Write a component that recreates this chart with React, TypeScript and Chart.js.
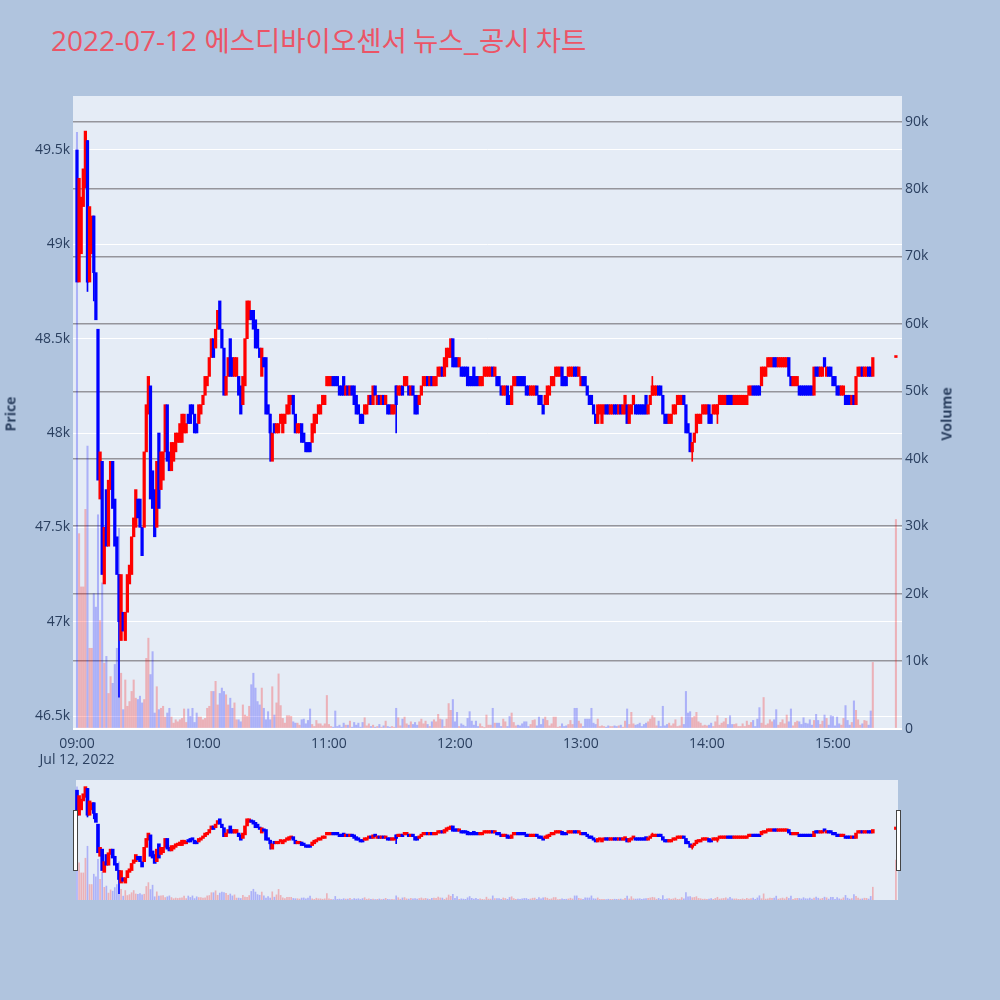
import React, { useEffect, useRef } from "react";
import { Chart, registerables } from "chart.js";

Chart.register(...registerables);

// ---------- text ----------
const TITLE_DATE = "2022-07-12";
const TITLE_NAME = "에스디바이오센서 뉴스_공시 차트";
const DATE_LABEL = "Jul 12, 2022";
const PRICE_TITLE = "Price";
const VOLUME_TITLE = "Volume";
const SESSION_START_HOUR = 9;

// ---------- data: one entry per minute from 09:00 (index = minutes after 09:00) ----------
const OPEN: (number | null)[] = [
  49500, 48800, 48950, 49200, 49300, 49550, 48800, 48950, 49150, 48850,
  48550, 47650, 47850, 47200, 47700, 47400, 47700, 47850, 47650, 47450,
  47250, 46900, 47050, 46900, 47050, 47200, 47250, 47450, 47500, 47650,
  47650, 47500, 47500, 47900, 48100, 48250, 47800, 47700, 47500, 48000,
  47700, 47750, 47900, 48150, 47900, 47800, 47850, 47900, 47950, 47950,
  47950, 48000, 48000, 48100, 48150, 48150, 48100, 48050, 48050, 48100,
  48150, 48200, 48250, 48300, 48400, 48500, 48450, 48550, 48700, 48550,
  48450, 48200, 48300, 48500, 48400, 48300, 48300, 48300, 48250, 48150,
  48250, 48500, 48600, 48650, 48650, 48600, 48550, 48450, 48300, 48400,
  48400, 48150, 48100, 47850, 48050, 48000, 48000, 48050, 48000, 48050,
  48100, 48100, 48150, 48200, 48100, 48000, 48000, 48050, 48000, 47950,
  47950, 47950, 47950, 48000, 48050, 48100, 48100, 48150, 48150, 48250,
  48250, 48250, 48300, 48300, 48300, 48250, 48250, 48300, 48200, 48250,
  48200, 48250, 48250, 48200, 48150, 48100, 48100, 48100, 48100, 48150,
  48200, 48150, 48250, 48150, 48200, 48150, 48200, 48150, 48150, 48150,
  48100, 48100, 48250, 48200, 48200, 48250, 48250, 48250, 48250, 48200,
  48250, 48200, 48200, 48150, 48200, 48250, 48250, 48300, 48250, 48300,
  48250, 48250, 48300, 48300, 48350, 48300, 48350, 48400, 48400, 48500,
  48400, 48400, 48350, 48350, 48350, 48350, 48350, 48300, 48300, 48350,
  48300, 48300, 48250, 48250, 48300, 48300, 48300, 48300, 48350, 48300,
  48300, 48300, 48250, 48200, 48200, 48250, 48200, 48150, 48250, 48250,
  48300, 48300, 48300, 48300, 48250, 48250, 48200, 48200, 48200, 48250,
  48200, 48200, 48150, 48150, 48150, 48200, 48250, 48250, 48300, 48300,
  48300, 48350, 48300, 48300, 48300, 48300, 48300, 48350, 48350, 48300,
  48250, 48300, 48300, 48250, 48200, 48200, 48150, 48100, 48050, 48100,
  48050, 48100, 48150, 48150, 48100, 48100, 48150, 48150, 48100, 48150,
  48100, 48100, 48150, 48050, 48100, 48150, 48150, 48150, 48150, 48150,
  48150, 48200, 48100, 48150, 48200, 48200, 48200, 48250, 48250, 48200,
  48100, 48100, 48050, 48050, 48100, 48100, 48150, 48150, 48150, 48200,
  48150, 48050, 48000, 47900, 47950, 48000, 48050, 48050, 48100, 48100,
  48100, 48150, 48100, 48100, 48100, 48100, 48150, 48150, 48150, 48150,
  48200, 48200, 48200, 48150, 48150, 48150, 48150, 48150, 48150, 48150,
  48200, 48200, 48250, 48250, 48250, 48250, 48250, 48300, 48300, 48350,
  48350, 48350, 48400, 48400, 48350, 48350, 48350, 48350, 48350, 48400,
  48300, 48250, 48250, 48250, 48250, 48250, 48250, 48250, 48250, 48250,
  48250, 48200, 48350, 48350, 48300, 48300, 48400, 48300, 48350, 48350,
  48300, 48300, 48250, 48250, 48200, 48200, 48200, 48200, 48200, 48150,
  48200, 48150, 48300, 48300, 48350, 48300, 48300, 48350, 48350, 48300,
  null, null, null, null, null, null, null, null, null, null,
  48400,
];

const CLOSE: (number | null)[] = [
  48800, 49350, 49250, 49400, 49600, 48800, 49200, 49150, 48850, 48600,
  47750, 47900, 47250, 47500, 47400, 47750, 47850, 47600, 47400, 47250,
  47000, 47250, 46950, 47050, 47250, 47300, 47450, 47550, 47700, 47550,
  47500, 47350, 47900, 48150, 48300, 47650, 47600, 47450, 47850, 47600,
  47900, 47900, 48150, 47850, 47800, 47950, 47950, 48000, 48000, 48050,
  48100, 48100, 48050, 48050, 48050, 48100, 48000, 48000, 48150, 48150,
  48200, 48300, 48300, 48400, 48500, 48400, 48550, 48650, 48550, 48450,
  48200, 48300, 48400, 48300, 48300, 48400, 48400, 48200, 48100, 48300,
  48500, 48700, 48700, 48600, 48550, 48450, 48450, 48400, 48450, 48350,
  48100, 48100, 48000, 48000, 48000, 48050, 48050, 48100, 48100, 48100,
  48150, 48200, 48200, 48100, 48000, 48050, 48050, 47950, 47950, 47900,
  47900, 47900, 48050, 48100, 48100, 48150, 48150, 48200, 48200, 48300,
  48300, 48300, 48250, 48250, 48250, 48200, 48200, 48200, 48250, 48200,
  48250, 48200, 48150, 48100, 48100, 48050, 48050, 48150, 48150, 48200,
  48150, 48250, 48200, 48200, 48150, 48200, 48150, 48200, 48100, 48100,
  48150, 48150, 48150, 48250, 48250, 48200, 48300, 48300, 48200, 48250,
  48200, 48100, 48100, 48200, 48250, 48300, 48300, 48250, 48300, 48250,
  48300, 48300, 48350, 48350, 48300, 48400, 48450, 48450, 48500, 48350,
  48350, 48350, 48400, 48300, 48300, 48300, 48250, 48250, 48250, 48250,
  48250, 48250, 48300, 48300, 48350, 48350, 48350, 48350, 48300, 48350,
  48250, 48250, 48200, 48250, 48250, 48150, 48150, 48250, 48300, 48300,
  48250, 48250, 48250, 48250, 48200, 48200, 48250, 48250, 48250, 48200,
  48150, 48150, 48100, 48200, 48250, 48250, 48300, 48300, 48350, 48350,
  48350, 48250, 48250, 48250, 48350, 48350, 48350, 48300, 48300, 48350,
  48300, 48250, 48250, 48200, 48150, 48150, 48100, 48050, 48150, 48150,
  48150, 48150, 48100, 48100, 48150, 48150, 48100, 48100, 48150, 48100,
  48150, 48200, 48050, 48150, 48150, 48200, 48100, 48100, 48100, 48100,
  48100, 48100, 48150, 48200, 48250, 48250, 48250, 48200, 48200, 48100,
  48050, 48050, 48100, 48100, 48150, 48150, 48200, 48200, 48200, 48150,
  48000, 48000, 47900, 47950, 48000, 48100, 48100, 48100, 48150, 48150,
  48150, 48050, 48050, 48150, 48150, 48150, 48200, 48200, 48200, 48200,
  48150, 48150, 48150, 48200, 48200, 48200, 48200, 48200, 48200, 48200,
  48250, 48250, 48200, 48200, 48200, 48200, 48350, 48350, 48350, 48400,
  48400, 48400, 48350, 48350, 48400, 48400, 48400, 48400, 48400, 48300,
  48250, 48300, 48300, 48300, 48200, 48200, 48200, 48200, 48200, 48200,
  48200, 48350, 48300, 48300, 48350, 48350, 48350, 48350, 48300, 48300,
  48250, 48250, 48200, 48200, 48250, 48250, 48150, 48150, 48150, 48200,
  48150, 48300, 48350, 48350, 48300, 48350, 48350, 48300, 48300, 48400,
  null, null, null, null, null, null, null, null, null, null,
  48400,
];

const VOLUME: (number | null)[] = [
  88400, 28900, 21000, 21000, 32500, 41900, 11900, 11900, 20000, 18000,
  31700, 16000, 21600, 9700, 10700, 5200, 7700, 6700, 9500, 11900,
  29700, 8200, 2800, 7200, 3300, 4000, 5500, 7200, 4500, 4300,
  4800, 3800, 4300, 10400, 13400, 8000, 11400, 2300, 6200, 2800,
  3000, 3300, 1700, 2300, 3000, 1700, 800, 1300, 1000, 1300,
  1500, 2900, 900, 2900, 1800, 3000, 900, 2300, 1700, 1700,
  1300, 1500, 3000, 3300, 5500, 5500, 7000, 3500, 5200, 6000,
  5500, 5000, 3500, 4500, 3000, 3800, 1300, 1300, 1000, 3500,
  2000, 1800, 3300, 6500, 8200, 6000, 4000, 3500, 6000, 3000,
  1300, 2500, 1300, 6200, 2000, 3800, 8100, 3400, 1500, 800,
  1900, 1900, 1800, 1000, 800, 800, 500, 1300, 1400, 700,
  1200, 2900, 600, 300, 1200, 700, 700, 400, 700, 4900,
  600, 300, 200, 2600, 300, 500, 200, 800, 500, 500,
  1100, 200, 900, 500, 800, 200, 900, 1600, 400, 700,
  300, 500, 200, 300, 600, 200, 400, 1100, 300, 200,
  300, 200, 3000, 1600, 400, 1400, 1700, 700, 500, 1000,
  600, 900, 500, 1000, 1400, 700, 1100, 600, 300, 1000,
  1300, 1000, 2100, 1400, 1300, 300, 1400, 3700, 2700, 4300,
  1000, 2400, 300, 700, 500, 300, 1500, 2500, 1100, 500,
  1100, 300, 700, 300, 100, 2000, 500, 500, 3000, 800,
  800, 800, 300, 1400, 1000, 300, 1800, 2300, 900, 400,
  500, 400, 700, 1000, 1000, 300, 600, 1200, 1300, 400,
  1700, 600, 1400, 1700, 1200, 400, 700, 1700, 1700, 200,
  300, 700, 300, 400, 600, 1200, 600, 3000, 3000, 1100,
  700, 300, 1400, 1400, 1400, 3000, 800, 600, 1400, 300,
  400, 300, 200, 400, 300, 300, 400, 300, 400, 500,
  200, 1100, 2900, 600, 2400, 700, 500, 600, 800, 300,
  600, 800, 1000, 1400, 1900, 1600, 400, 1100, 300, 3300,
  400, 600, 800, 400, 700, 1300, 300, 400, 1700, 600,
  5500, 2300, 2500, 1600, 1800, 2400, 1000, 800, 400, 500,
  400, 500, 800, 300, 1000, 1900, 500, 800, 1000, 1500,
  600, 1900, 600, 600, 700, 300, 300, 700, 300, 1100,
  500, 900, 1200, 300, 1400, 3100, 800, 4600, 500, 700,
  1300, 1000, 1300, 2800, 500, 900, 1300, 700, 2000, 1000,
  2900, 400, 900, 1100, 1000, 600, 1600, 800, 700, 1300,
  500, 1200, 2100, 1200, 600, 1100, 2000, 1500, 500, 1900,
  1800, 400, 1700, 700, 500, 1500, 3400, 1200, 500, 900,
  4100, 2700, 1300, 500, 700, 1200, 1100, 500, 2600, 9800,
  null, null, null, null, null, null, null, null, null, null,
  31000,
];

// visible wicks beyond the candle body: [minute, low, high]
const WICKS: [number, number, number][] = [
  [5, 48750, 49550],
  [8, 48700, 49150],
  [20, 46600, 47250],
  [92, 47850, 48100],
  [152, 48000, 48250],
  [274, 48200, 48300],
  [293, 47850, 47950],
  [305, 48050, 48150],
];

const PRICE_TICKS = [46500, 47000, 47500, 48000, 48500, 49000, 49500];
const VOLUME_TICKS = [0, 10000, 20000, 30000, 40000, 50000, 60000, 70000, 80000, 90000];
const TIME_TICKS = [0, 60, 120, 180, 240, 300, 360];

const PRICE_RANGE = [46426, 49786];
const VOLUME_RANGE = [-220, 93800];
const TIME_RANGE = [-1.9, 392.9];

// ---------- style ----------
const PAGE_BG = "#B0C4DE";
const PLOT_BG = "#E5ECF6";
const TITLE_COLOR = "rgb(236, 84, 102)";
const TEXT_COLOR = "#2a3f5f";
const RED = "#ff0000";
const BLUE = "#0000ff";
const RED_LIGHT = "rgba(255,0,0,0.25)";
const BLUE_LIGHT = "rgba(0,0,255,0.25)";
const VOL_GRID = "rgba(140,140,145,0.9)";
const FONT = '"Open Sans", verdana, arial, sans-serif';

Chart.defaults.font.family = FONT;

function isUp(i: number) {
  return (CLOSE[i] as number) >= (OPEN[i] as number);
}

function timeLabel(m: number) {
  const h = SESSION_START_HOUR + Math.floor(m / 60);
  const mm = m % 60;
  return `${String(h).padStart(2, "0")}:${String(mm).padStart(2, "0")}`;
}

function buildDatasets(bodyW: number, wickW: number, volW: number, minLen: number) {
  const idx: number[] = [];
  OPEN.forEach((o, i) => {
    if (o !== null) idx.push(i);
  });
  return [
    {
      type: "bar" as const,
      label: "candle",
      yAxisID: "y",
      data: idx.map((i) => ({ x: i, y: [OPEN[i], CLOSE[i]] })),
      backgroundColor: idx.map((i) => (isUp(i) ? RED : BLUE)),
      barThickness: bodyW,
      minBarLength: minLen,
      grouped: false,
      borderWidth: 0,
      order: 0,
    },
    {
      type: "bar" as const,
      label: "wick",
      yAxisID: "y",
      data: WICKS.map(([m, l, h]) => ({ x: m, y: [l, h] })),
      backgroundColor: WICKS.map(([m]) => (isUp(m) ? RED : BLUE)),
      barThickness: wickW,
      grouped: false,
      borderWidth: 0,
      order: 1,
    },
    {
      type: "bar" as const,
      label: "volume",
      yAxisID: "yv",
      data: idx.map((i) => ({ x: i, y: VOLUME[i] })),
      backgroundColor: idx.map((i) => (isUp(i) ? RED_LIGHT : BLUE_LIGHT)),
      barThickness: volW,
      grouped: false,
      borderWidth: 0,
      order: 2,
    },
  ];
}

function areaBg(left?: number, right?: number) {
  return {
    id: "areaBg",
    beforeDraw(chart: any) {
      const a = chart.chartArea;
      const ctx = chart.ctx;
      const l = left ?? a.left;
      const r = right ?? a.right;
      ctx.save();
      ctx.fillStyle = PLOT_BG;
      ctx.fillRect(l, a.top, r - l, a.bottom - a.top);
      ctx.restore();
    },
  };
}

function MainChart() {
  const ref = useRef<HTMLCanvasElement>(null);
  useEffect(() => {
    const chart = new Chart(ref.current as HTMLCanvasElement, {
      type: "bar",
      data: { datasets: buildDatasets(2.6, 1, 1.4, 2) as any },
      options: {
        responsive: false,
        animation: false,
        events: [],
        layout: { padding: { top: 96, right: 40, left: 0, bottom: 0 } },
        plugins: { legend: { display: false }, tooltip: { enabled: false } },
        scales: {
          x: {
            type: "linear",
            position: "bottom",
            min: TIME_RANGE[0],
            max: TIME_RANGE[1],
            offset: false,
            grid: { display: false },
            border: { display: false },
            afterBuildTicks: (s: any) => {
              s.ticks = TIME_TICKS.map((v) => ({ value: v }));
            },
            afterFit: (s: any) => {
              s.height = 50;
            },
            ticks: {
              color: TEXT_COLOR,
              font: { size: 14, lineHeight: 1.15 },
              padding: -2,
              maxRotation: 0,
              autoSkip: false,
              callback: (v: any) => {
                const m = Number(v);
                return m === 0 ? [timeLabel(m), DATE_LABEL] : timeLabel(m);
              },
            },
          },
          y: {
            type: "linear",
            position: "left",
            min: PRICE_RANGE[0],
            max: PRICE_RANGE[1],
            grid: { color: "#ffffff", lineWidth: 1, drawTicks: false },
            border: { display: false },
            afterBuildTicks: (s: any) => {
              s.ticks = PRICE_TICKS.map((v) => ({ value: v }));
            },
            afterFit: (s: any) => {
              s.width = 73;
            },
            ticks: {
              color: TEXT_COLOR,
              font: { size: 14 },
              padding: 3,
              callback: (v: any) => `${Number(v) / 1000}k`,
            },
          },
          yv: {
            type: "linear",
            position: "right",
            min: VOLUME_RANGE[0],
            max: VOLUME_RANGE[1],
            grid: {
              color: (c: any) => (c.tick && c.tick.value === 0 ? "#ffffff" : VOL_GRID),
              lineWidth: (c: any) => (c.tick && c.tick.value === 0 ? 2 : 1.5),
              drawTicks: false,
            },
            border: { display: false },
            afterBuildTicks: (s: any) => {
              s.ticks = VOLUME_TICKS.map((v) => ({ value: v }));
            },
            afterFit: (s: any) => {
              s.width = 58;
            },
            ticks: {
              color: TEXT_COLOR,
              font: { size: 14 },
              padding: 3,
              callback: (v: any) => (Number(v) === 0 ? "0" : `${Number(v) / 1000}k`),
            },
          },
        },
      },
      plugins: [areaBg()],
    } as any);
    return () => chart.destroy();
  }, []);
  return (
    <canvas
      ref={ref}
      width={1000}
      height={780}
      style={{ position: "absolute", left: 0, top: 0, width: 1000, height: 780 }}
    />
  );
}

function SliderChart() {
  const ref = useRef<HTMLCanvasElement>(null);
  useEffect(() => {
    const chart = new Chart(ref.current as HTMLCanvasElement, {
      type: "bar",
      data: { datasets: buildDatasets(3, 1, 1, 2.5) as any },
      options: {
        responsive: false,
        animation: false,
        events: [],
        layout: { padding: { top: 0, right: 98, left: 73, bottom: 0 } },
        plugins: { legend: { display: false }, tooltip: { enabled: false } },
        scales: {
          x: { type: "linear", display: false, min: TIME_RANGE[0], max: TIME_RANGE[1], offset: false },
          y: { type: "linear", display: false, min: PRICE_RANGE[0], max: PRICE_RANGE[1] },
          yv: { type: "linear", display: false, min: VOLUME_RANGE[0], max: VOLUME_RANGE[1] },
        },
      },
      plugins: [areaBg(76, 898)],
    } as any);
    return () => chart.destroy();
  }, []);
  return (
    <canvas
      ref={ref}
      width={1000}
      height={120}
      style={{ position: "absolute", left: 0, top: 780, width: 1000, height: 120 }}
    />
  );
}

const handleStyle: React.CSSProperties = {
  position: "absolute",
  top: 810,
  width: 5,
  height: 61,
  boxSizing: "border-box",
  background: "#ffffff",
  border: "1px solid #444",
};

export default function App() {
  return (
    <div
      style={{
        position: "absolute",
        left: 0,
        top: 0,
        width: 1000,
        height: 1000,
        background: PAGE_BG,
        overflow: "hidden",
        fontFamily: FONT,
      }}
    >
      <div
        style={{
          position: "absolute",
          left: 51,
          top: 21,
          fontSize: 28,
          lineHeight: "36px",
          color: TITLE_COLOR,
          whiteSpace: "nowrap",
          fontFamily: '"Open Sans", "Noto Sans CJK KR", sans-serif',
        }}
      >
        {TITLE_DATE}{" "}
        <span style={{ fontFamily: '"Noto Sans CJK KR", sans-serif', fontSize: 27.5 }}>{TITLE_NAME}</span>
      </div>
      <MainChart />
      <SliderChart />
      <div style={{ ...handleStyle, left: 73 }} />
      <div style={{ ...handleStyle, left: 896 }} />
      <div
        style={{
          position: "absolute",
          left: 10,
          top: 414,
          transform: "translate(-50%, -50%) rotate(-90deg)",
          fontSize: 14,
          fontWeight: 700,
          color: TEXT_COLOR,
          whiteSpace: "nowrap",
        }}
      >
        {PRICE_TITLE}
      </div>
      <div
        style={{
          position: "absolute",
          left: 946,
          top: 414,
          transform: "translate(-50%, -50%) rotate(-90deg)",
          fontSize: 14,
          fontWeight: 700,
          color: TEXT_COLOR,
          whiteSpace: "nowrap",
        }}
      >
        {VOLUME_TITLE}
      </div>
    </div>
  );
}
